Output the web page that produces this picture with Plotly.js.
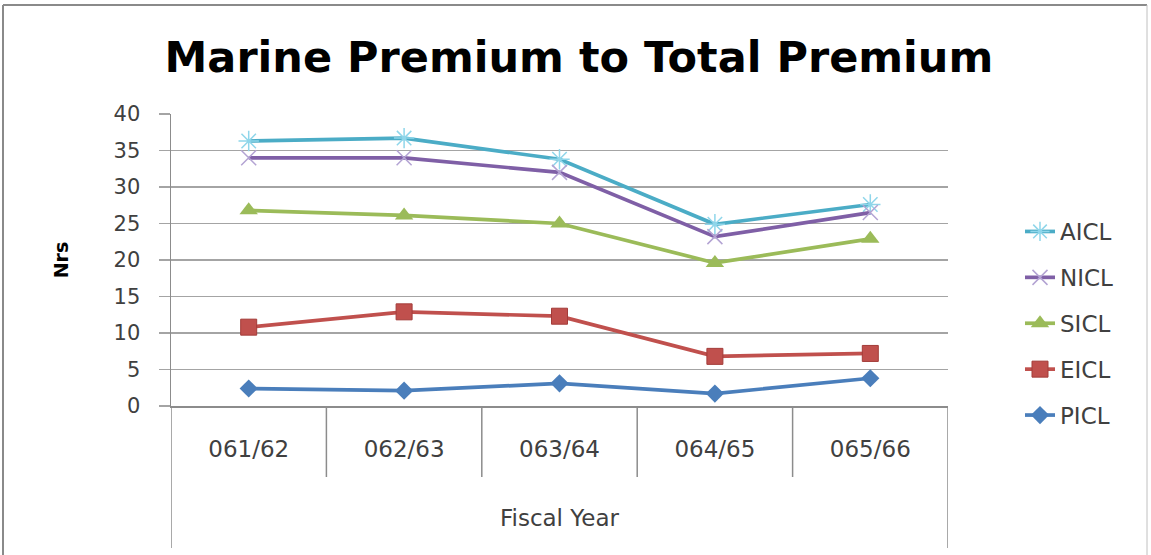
<!DOCTYPE html>
<html>
<head>
<meta charset="utf-8">
<script src="https://cdn.plot.ly/plotly-3.0.1.min.js"></script>
<style>
html,body{margin:0;padding:0;background:#fff;}
#chart{width:1151px;height:555px;}
</style>
</head>
<body>
<div id="chart"></div>
<script>
// Data
const categories = ["061/62", "062/63", "063/64", "064/65", "065/66"];
const seriesNames = ["AICL", "NICL", "SICL", "EICL", "PICL"];
const AICL = [36.3, 36.7, 33.8, 24.9, 27.6];
const NICL = [34.0, 34.0, 32.0, 23.2, 26.5];
const SICL = [26.8, 26.1, 25.0, 19.6, 22.9];
const EICL = [10.8, 12.9, 12.3, 6.8, 7.2];
const PICL = [2.4, 2.1, 3.1, 1.7, 3.8];
const yTicks = [0, 5, 10, 15, 20, 25, 30, 35, 40];

const valuesByName = {AICL, NICL, SICL, EICL, PICL};
const styles = {
  AICL: {line: "#4bacc6", marker: {symbol: "asterisk-open", size: 17, color: "#8fd6ea", line: {width: 1.5, color: "#8fd6ea"}}},
  NICL: {line: "#7f5fa6", marker: {symbol: "x-thin-open", size: 15, color: "#b3a3d3", line: {width: 1.5, color: "#b3a3d3"}}},
  SICL: {line: "#9bbb59", marker: {symbol: "triangle-up", size: 16, color: "#9bbb59", line: {width: 0}}},
  EICL: {line: "#c0504d", marker: {symbol: "square", size: 16, color: "#c0504d", line: {width: 1, color: "#a33c39"}}},
  PICL: {line: "#4a7ebb", marker: {symbol: "diamond", size: 14, color: "#4a7ebb", line: {width: 0}}}
};

const traces = seriesNames.map(name => ({
  type: "scatter",
  mode: "lines+markers",
  name: name,
  legendgroup: name,
  x: categories,
  y: valuesByName[name],
  line: {color: styles[name].line, width: 3.7},
  marker: styles[name].marker
}));

const axisGray = "#8c8c8c";
const gridGray = "#a4a4a4";
const plotH = 406 - 114;
const plotW = 948 - 171;

const shapes = [];
// category separators below the axis
for (let i = 1; i < categories.length; i++) {
  shapes.push({type: "line", xref: "x", yref: "paper", x0: i - 0.5, x1: i - 0.5,
    y0: 0, y1: -(477 - 406) / plotH, line: {color: axisGray, width: 1.5}});
}
// outer box of the category area
shapes.push({type: "line", xref: "x", yref: "paper", x0: -0.5, x1: -0.5, y0: 0, y1: -(548 - 406) / plotH, line: {color: axisGray, width: 1.5}});
shapes.push({type: "line", xref: "x", yref: "paper", x0: categories.length - 0.5, x1: categories.length - 0.5, y0: 0, y1: -(548 - 406) / plotH, line: {color: axisGray, width: 1.5}});
// chart frame
const fx0 = (3 - 171) / plotW, fx1 = (1147 - 171) / plotW, fyTop = (406 - 5) / plotH, fyBot = (406 - 560) / plotH;
shapes.push({type: "line", xref: "paper", yref: "paper", x0: fx0, x1: fx1, y0: fyTop, y1: fyTop, line: {color: "#8a8a8a", width: 2}});
shapes.push({type: "line", xref: "paper", yref: "paper", x0: fx0, x1: fx0, y0: fyTop, y1: fyBot, line: {color: "#8a8a8a", width: 2}});
shapes.push({type: "line", xref: "paper", yref: "paper", x0: fx1, x1: fx1, y0: fyTop, y1: fyBot, line: {color: "#c0c0c0", width: 1}});

const layout = {
  width: 1151,
  height: 555,
  margin: {l: 171, r: 203, t: 114, b: 149},
  paper_bgcolor: "#ffffff",
  plot_bgcolor: "#ffffff",
  font: {family: "DejaVu Sans", color: "#404040"},
  title: {
    text: "<b>Marine Premium to Total Premium</b>",
    font: {family: "DejaVu Sans", size: 43, color: "#000000"},
    x: 0.525, xanchor: "center", xref: "paper",
    y: 1 - 57 / 555, yref: "container", yanchor: "middle"
  },
  xaxis: {
    type: "category",
    range: [-0.5, categories.length - 0.5],
    showgrid: false,
    zeroline: false,
    showline: true,
    linecolor: axisGray,
    linewidth: 1.5,
    ticks: "",
    ticklabelstandoff: 22,
    tickfont: {size: 23, color: "#404040"},
    title: {text: "Fiscal Year", font: {size: 23, color: "#404040"}, standoff: 49},
    fixedrange: true
  },
  yaxis: {
    range: [0, 40],
    tickvals: yTicks,
    ticktext: yTicks.map(String),
    showgrid: true,
    gridcolor: gridGray,
    gridwidth: 1.5,
    zeroline: false,
    showline: true,
    linecolor: axisGray,
    linewidth: 1.5,
    ticks: "outside",
    ticklen: 11,
    tickwidth: 1.5,
    tickcolor: gridGray,
    ticklabelstandoff: 14,
    tickfont: {size: 21, color: "#404040"},
    title: {text: "<b>Nrs</b>", font: {size: 19, color: "#000000"}, standoff: 40},
    fixedrange: true
  },
  showlegend: true,
  legend: {
    x: (1020 - 171) / plotW,
    xanchor: "left",
    y: (406 - 210) / plotH,
    yanchor: "top",
    font: {size: 23, color: "#404040"},
    tracegroupgap: 13,
    traceorder: "grouped",
    bgcolor: "rgba(0,0,0,0)"
  },
  shapes: shapes
};

Plotly.newPlot("chart", traces, layout, {displayModeBar: false, staticPlot: true});
</script>
</body>
</html>
